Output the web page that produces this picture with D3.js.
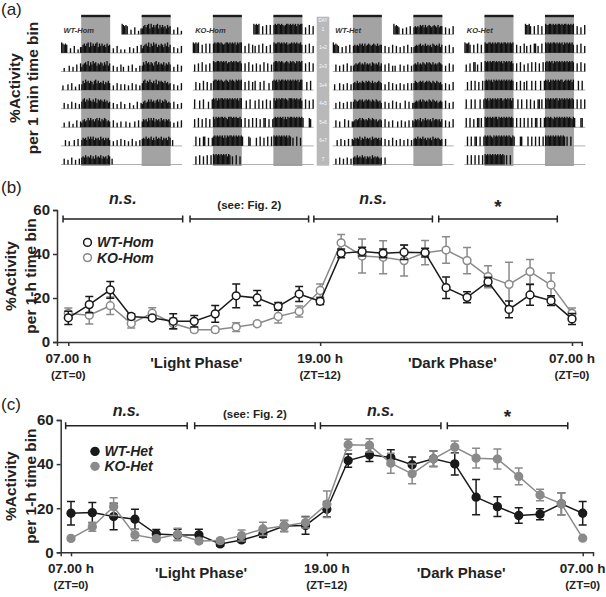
<!DOCTYPE html>
<html>
<head>
<meta charset="utf-8">
<script src="https://cdn.jsdelivr.net/npm/d3@7"></script>
<style>
  body { margin: 0; background: #fff; }
  text { font-family: "Liberation Sans", Arial, sans-serif; }
</style>
</head>
<body>
<svg id="fig" width="606" height="597"></svg>
<script>
// ---- data ----
const hours = [0, 1, 2, 3, 4, 5, 6, 7, 8, 9, 10, 11, 12, 13, 14, 15, 16, 17, 18, 19, 20, 21, 22, 23, 24];
const yTicks = [0, 20, 40, 60];
const xTicks = [0, 12, 24];
const xTickLabels = ["07.00 h", "19.00 h", "07.00 h"];
const xTickSub = ["(ZT=0)", "(ZT=12)", "(ZT=0)"];
const phaseLabels = ["'Light Phase'", "'Dark Phase'"];
const phaseAt = [6.1, 18.3];

const wtHomMean = [11, 17, 23.7, 11.6, 10.9, 9.4, 9.4, 12.8, 21, 20, 16.2, 21.8, 18.5, 40.3, 41.1, 40.3, 40.8, 40.6, 24.7, 20.3, 27.4, 14.8, 21.4, 18.8, 10.5];
const wtHomSem = [3, 3.7, 3.8, 1.2, 1, 3.4, 2.6, 3.8, 5.4, 3.4, 1.8, 3.4, 1.5, 2, 2, 2, 3.3, 2, 4.9, 2.5, 2, 3.8, 4.7, 2.2, 2.5];
const koHomMean = [13, 12.2, 16.5, 8.4, 13.1, 8.4, 5.6, 5.6, 6.8, 8.3, 11.6, 13.9, 23.4, 45.1, 39.1, 38.5, 37, 40.6, 41.8, 37, 29.7, 26.2, 32, 25.9, 13];
const koHomSem = [2.4, 4, 4, 2, 2.5, 2.5, 1, 1, 2, 1, 3, 2.5, 3, 3.8, 7.7, 7.5, 7, 5.5, 6, 6, 5, 10, 5.5, 5.5, 2.5];
const wtHetMean = [17.7, 18, 16.2, 15, 8.3, 7.9, 7.9, 3.8, 5.6, 8.3, 11.9, 12.2, 19.5, 41.6, 44.2, 43, 39.7, 42.4, 40.1, 25, 20.7, 16.7, 17.3, 22, 17.7];
const wtHetSem = [5.3, 4.6, 6, 4.5, 2, 2.5, 2.5, 1, 1, 1.5, 2.5, 4, 3.5, 3, 3, 3.5, 3.5, 3.5, 5, 8, 4.5, 3.5, 2.5, 5, 5.3];
const koHetMean = [6.3, 11.6, 20.7, 7.9, 6.2, 8.2, 5.1, 5.3, 7.6, 10.6, 11.9, 13.5, 21.8, 48.8, 48.5, 40.4, 35.6, 42.4, 47.7, 42.7, 42.3, 34.4, 26, 22, 6.4];
const koHetSem = [0, 2, 4, 2.5, 1, 2.7, 1, 1, 2.5, 3, 2.5, 2.5, 6, 2.5, 3, 4.5, 4.5, 3.5, 2.8, 4.5, 4.5, 3.8, 2.6, 5, 0];

const bracketStart = [-0.25, 5.8, 11.7, 17.65];
const bracketEnd = [5.45, 11.45, 17.35, 23.3];
const bracketLabels = ["n.s.", "(see: Fig. 2)", "n.s.", "*"];

// actogram: one string per day, one char per half-hour bin (0-9 activity level)
const actoGroups = ["WT-Hom", "KO-Hom", "WT-Het", "KO-Het"];
const dayLabels = ["1", "1+2", "2+3", "3+4", "4+5", "5+6", "6+7", "7"];
const wtHomActo = [
  "9878700400600305" + "57868959686895868675867" + "004006003",
  "0030005004006007" + "46786958697857687586957" + "005004006",
  "0400050060030050" + "58697868758968676857686" + "004006005",
  "0050040060050040" + "68968797686958787686756" + "005004006",
  "0040005003006005" + "46756868675786857687565" + "006004005",
  "0005004000500600" + "57675868685767586757675" + "004005006",
  "0050040060040050" + "67686768575867685767587" + "05"
];
const koHomActo = [
  "9898900700800800" + "89899898789989898979899" + "006008007",
  "0600700800600700" + "98899898989788989898897" + "007008006",
  "0070060080070060" + "89989898789879898798989" + "007008007",
  "0800070080006008" + "98979899898989898989799" + "000700800",
  "0700800700800700" + "97989899898799989898897" + "008007008",
  "0080070088007007" + "89898989797989989898989" + "800008700",
  "0070080070080080" + "98989898989798" + "0700800700"
];
const wtHetActo = [
  "9787600500600700" + "67676878686787678768677" + "006005007",
  "0060050060070050" + "56767867686767587676857" + "006007005",
  "0500060050060050" + "67686768768787686767876" + "005007006",
  "0050060050060060" + "68767878678787687687675" + "006005007",
  "0060050007006005" + "56767868767687687675676" + "007005006",
  "0005006005006006" + "57676857686767586776757" + "006005007",
  "0050060050060050" + "67686768675767586767656" + "0060"
];
const koHetActo = [
  "9889700700800700" + "98899898989989899898989" + "007006008",
  "0600700880600800" + "98989899898989798989897" + "007008006",
  "0070080080070080" + "89898979898989898989898" + "007008007",
  "0800080080008008" + "98979898989899789898979" + "000800800",
  "0800800700880800" + "98989898997989898989898" + "008008008",
  "0080080088008008" + "98989879898989898989879" + "800008800",
  "0080080080080080" + "9898989898989898" + "0800800"
];
const actoData = [wtHomActo, koHomActo, wtHetActo, koHetActo];

// ---- drawing ----
const svg = d3.select("#fig");
const ink = "#1a1a1a";
const grey = "#8a8a8a";

// panel letters
[["(a)", 15], ["(b)", 193], ["(c)", 410]].forEach(([t, y]) => {
  svg.append("text").attr("x", 1).attr("y", y)
    .attr("font-size", 17).attr("fill", "#222").text(t);
});

// ---- panel (a) ----
const acto = svg.append("g").attr("class", "actogram");
const groupX = [61, 192.7, 332.7, 464.3];
const darkSlots = [[16, 39], [64, 87]];
const slotsPerDay = 48;
const rowY = d3.scaleLinear().domain([0, 7]).range([34.3, 164.5]);
const levelH = d3.scaleLinear().domain([0, 9]).range([0, 10.5]);

actoGroups.forEach((name, gi) => {
  const x0 = groupX[gi];
  const xs = d3.scaleLinear().domain([0, 2 * slotsPerDay]).range([x0, x0 + 121]);
  const g = acto.append("g");

  darkSlots.forEach(([a, b]) => {
    g.append("rect").attr("x", xs(a)).attr("y", 16).attr("width", xs(b) - xs(a)).attr("height", 150)
      .attr("fill", "#a3a3a3");
    g.append("rect").attr("x", xs(a)).attr("y", 14.8).attr("width", xs(b) - xs(a)).attr("height", 2.4)
      .attr("fill", "#1c1c1c");
  });

  const days = actoData[gi];
  const drawDay = (str, offset, baseY) => {
    const bins = str.split("").map((c, i) => ({ i: i + offset, v: +c })).filter(d => d.v > 0);
    g.selectAll(null)
      .data(bins)
      .enter()
      .append("rect")
      .attr("x", d => xs(d.i))
      .attr("width", xs(1) - xs(0) + 0.1)
      .attr("y", d => baseY - levelH(d.v))
      .attr("height", d => levelH(d.v))
      .attr("fill", "#111");
  };

  dayLabels.forEach((lab, r) => {
    const by = rowY(r);
    g.append("line")
      .attr("x1", r === 0 ? xs(slotsPerDay) : xs(0)).attr("x2", xs(2 * slotsPerDay))
      .attr("y1", by).attr("y2", by)
      .attr("stroke", "#9a9a9a").attr("stroke-width", 0.8);
    if (r >= 1) drawDay(days[r - 1], 0, by);
    if (r <= 6) drawDay(days[r], slotsPerDay, by);
  });

  g.append("text").attr("x", x0 + 2.5).attr("y", 32.5)
    .attr("font-size", 7.5).attr("font-weight", "bold").attr("font-style", "italic")
    .attr("fill", "#333").text(name);
});

// day strip
const strip = acto.append("g");
strip.append("rect").attr("x", 316.7).attr("y", 16.7).attr("width", 12.6).attr("height", 149)
  .attr("fill", "#b9b9b9");
strip.append("text").attr("x", 323).attr("y", 21.5).attr("text-anchor", "middle")
  .attr("font-size", 4.5).attr("fill", "#fff").text("DAY");
strip.selectAll(null)
  .data(dayLabels)
  .enter()
  .append("text")
  .attr("x", 323)
  .attr("y", (d, i) => rowY(i) - 3.5)
  .attr("text-anchor", "middle")
  .attr("font-size", 4.5)
  .attr("fill", "#fff")
  .text(d => d);

function yTitle(cx1, cx2, cy, second) {
  [["%Activity", cx1], [second, cx2]].forEach(([t, cx]) => {
    svg.append("text")
      .attr("transform", `translate(${cx},${cy}) rotate(-90)`)
      .attr("text-anchor", "middle").attr("dy", "0.36em")
      .attr("font-size", 15.5).attr("font-weight", "bold").attr("fill", "#222")
      .text(t);
  });
}
yTitle(14, 32, 88, "per 1 min time bin");

// ---- panels (b) and (c) ----
function linePanel(cfg) {
  const x = d3.scaleLinear().domain([0, 24]).range([cfg.x0, cfg.x1]);
  const y = d3.scaleLinear().domain([0, 60]).range([cfg.yBot, cfg.yTop]);
  const g = svg.append("g");

  const yAx = g.append("g")
    .attr("transform", `translate(${cfg.axisX},0)`)
    .call(d3.axisLeft(y).tickValues(yTicks).tickSizeOuter(0).tickSize(4).tickPadding(3));

  const xAxisScale = d3.scaleLinear()
    .domain([x.invert(cfg.axisX), x.invert(cfg.axisEnd)])
    .range([cfg.axisX, cfg.axisEnd]);
  const xAx = g.append("g")
    .attr("transform", `translate(0,${cfg.yBot})`)
    .call(d3.axisBottom(xAxisScale).tickValues(xTicks).tickFormat("").tickSizeOuter(0).tickSize(4));

  [yAx, xAx].forEach(ax => {
    ax.selectAll("path, line").attr("stroke", "#333").attr("stroke-width", 1.5);
  });
  yAx.selectAll("text")
    .attr("font-size", 15).attr("font-weight", "bold").attr("fill", "#222")
    .attr("font-family", "Liberation Sans, Arial, sans-serif");

  xTicks.forEach((t, i) => {
    g.append("text").attr("x", x(t)).attr("y", cfg.yBot + 21).attr("text-anchor", "middle")
      .attr("font-size", 13.5).attr("font-weight", "bold").attr("fill", "#222").text(xTickLabels[i]);
    g.append("text").attr("x", x(t)).attr("y", cfg.yBot + 36.5).attr("text-anchor", "middle")
      .attr("font-size", 11.5).attr("font-weight", "bold").attr("fill", "#222").text(xTickSub[i]);
  });
  phaseLabels.forEach((t, i) => {
    g.append("text").attr("x", x(phaseAt[i])).attr("y", cfg.yBot + 26).attr("text-anchor", "middle")
      .attr("font-size", 15).attr("font-weight", "bold").attr("fill", "#222").text(t);
  });

  // significance brackets
  bracketStart.forEach((s, i) => {
    const x1 = x(s), x2 = x(bracketEnd[i]), by = cfg.bracketY;
    g.append("path")
      .attr("d", `M${x1},${by - 3.5}V${by + 3.5}M${x1},${by}H${x2}M${x2},${by - 3.5}V${by + 3.5}`)
      .attr("fill", "none").attr("stroke", "#222").attr("stroke-width", 1.5);
    const lab = bracketLabels[i];
    const t = g.append("text").attr("x", (x1 + x2) / 2).attr("text-anchor", "middle")
      .attr("font-weight", "bold").attr("fill", "#222").text(lab);
    if (lab === "n.s.") t.attr("y", cfg.nsY).attr("font-size", 16).attr("font-style", "italic");
    else if (lab === "*") t.attr("y", cfg.starY).attr("font-size", 19);
    else t.attr("y", cfg.seeY).attr("font-size", 11.5);
  });

  // series
  cfg.series.forEach(s => {
    const pts = hours.map((h, i) => ({ h, m: s.mean[i], e: s.sem[i] }));
    const sg = g.append("g");
    sg.append("path").datum(pts)
      .attr("d", d3.line().x(d => x(d.h)).y(d => y(d.m)))
      .attr("fill", "none").attr("stroke", s.color).attr("stroke-width", 1.5);
    sg.selectAll(null)
      .data(pts.filter(d => d.e > 0))
      .enter()
      .append("path")
      .attr("d", d => {
        const cx = x(d.h), lo = y(d.m - d.e), hi = y(d.m + d.e);
        return `M${cx},${lo}V${hi}M${cx - 4},${hi}H${cx + 4}M${cx - 4},${lo}H${cx + 4}`;
      })
      .attr("fill", "none").attr("stroke", s.color).attr("stroke-width", 1.5);
    sg.selectAll(null)
      .data(pts)
      .enter()
      .append("circle")
      .attr("cx", d => x(d.h)).attr("cy", d => y(d.m)).attr("r", 3.9)
      .attr("fill", s.open ? "#fff" : s.color)
      .attr("stroke", s.color).attr("stroke-width", 1.5);
  });

  // legend
  cfg.legend.forEach((s, i) => {
    const ly = cfg.yTop + cfg.legendDy[i];
    g.append("line").attr("x1", cfg.legendX - 4.5).attr("x2", cfg.legendX + 4.5)
      .attr("y1", ly).attr("y2", ly).attr("stroke", s.color).attr("stroke-width", 1.5);
    g.append("circle").attr("cx", cfg.legendX).attr("cy", ly).attr("r", 3.9)
      .attr("fill", s.open ? "#fff" : s.color).attr("stroke", s.color).attr("stroke-width", 1.5);
    g.append("text").attr("x", cfg.legendX + 9.5).attr("y", ly).attr("dy", "0.35em")
      .attr("font-size", 14).attr("font-weight", "bold").attr("font-style", "italic")
      .attr("fill", "#222").text(s.name);
  });

  yTitle(10.5, 30.5, (cfg.yTop + cfg.yBot) / 2, "per 1-h time bin");
}

const wtHom = { name: "WT-Hom", mean: wtHomMean, sem: wtHomSem, color: ink, open: true };
const koHom = { name: "KO-Hom", mean: koHomMean, sem: koHomSem, color: grey, open: true };
const wtHet = { name: "WT-Het", mean: wtHetMean, sem: wtHetSem, color: ink, open: false };
const koHet = { name: "KO-Het", mean: koHetMean, sem: koHetSem, color: grey, open: false };

linePanel({
  x0: 68.3, x1: 572, yTop: 210, yBot: 342, axisX: 57, axisEnd: 581.7,
  bracketY: 219, nsY: 203.5, seeY: 208.5, starY: 212.5,
  series: [koHom, wtHom], legend: [wtHom, koHom], legendX: 87.5, legendDy: [32.4, 47.6]
});
linePanel({
  x0: 71, x1: 582.7, yTop: 420, yBot: 552.3, axisX: 60.7, axisEnd: 593,
  bracketY: 425.7, nsY: 415.5, seeY: 417.5, starY: 423,
  series: [wtHet, koHet], legend: [wtHet, koHet], legendX: 95, legendDy: [31.4, 46.3]
});
</script>
</body>
</html>
